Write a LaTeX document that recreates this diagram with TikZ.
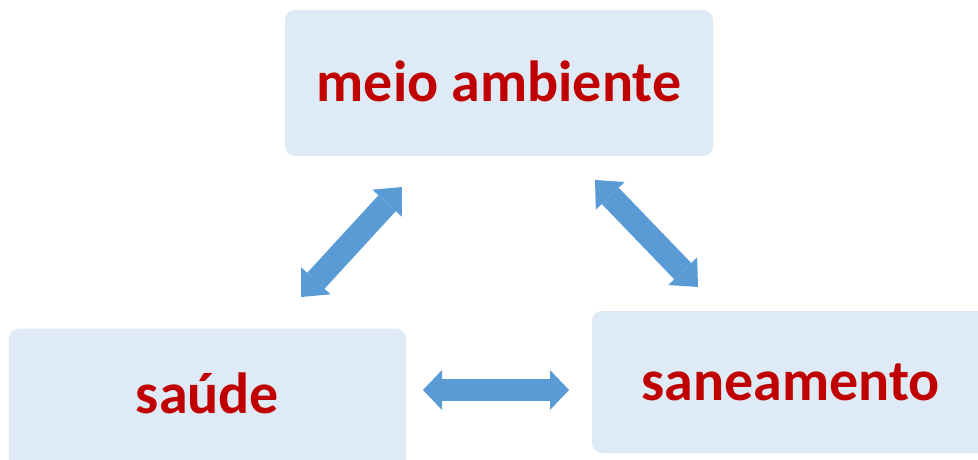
\documentclass[tikz,border=0pt]{standalone}
\usepackage{fontspec}
\setmainfont{Carlito}
\usetikzlibrary{arrows.meta,positioning}
\definecolor{boxblue}{RGB}{222,234,246}
\definecolor{txtred}{RGB}{192,0,0}
\definecolor{arblue}{RGB}{91,155,213}
\tikzset{
  topic/.style={fill=boxblue, rounded corners=2mm, align=center,
                font=\fontsize{33}{40}\selectfont\bfseries, text=txtred,
                text height=21pt, text depth=0pt, inner sep=0pt},
  dar/.style={{Triangle[width=8mm,length=3.8mm,line width=0pt]}-{Triangle[width=8mm,length=3.8mm,line width=0pt]},
              draw=arblue, line width=4.4mm},
  dard/.style={{Triangle[width=8mm,length=4.4mm,line width=0pt]}-{Triangle[width=8mm,length=4.4mm,line width=0pt]},
              draw=arblue, line width=4.7mm},
}
\begin{document}
\begin{tikzpicture}[x=0.2mm, y=-0.2mm]
\useasboundingbox (0,0) rectangle (978,459);
\node[topic, minimum width=85.6mm, minimum height=29.2mm] (meio) at (499,83) {meio ambiente};
\node[topic, minimum width=79.4mm, minimum height=28.6mm, text depth=6.2pt] (saude) at (207.5,400) {saúde};
\node[topic, minimum width=79.4mm, minimum height=28.4mm] (sanea) at (790.5,382) {saneamento};

% arrow ends
\coordinate (sdA) at (301,297);
\coordinate (mA) at (402,187);
\coordinate (mB) at (595,180);
\coordinate (snB) at (698,287);
\coordinate (sdC) at (423,390);
\coordinate (snC) at (569,390);

\draw[dard] (sdA) -- (mA);
\draw[dard] (mB) -- (snB);
\draw[dar] (sdC) -- (snC);
\end{tikzpicture}
\end{document}
